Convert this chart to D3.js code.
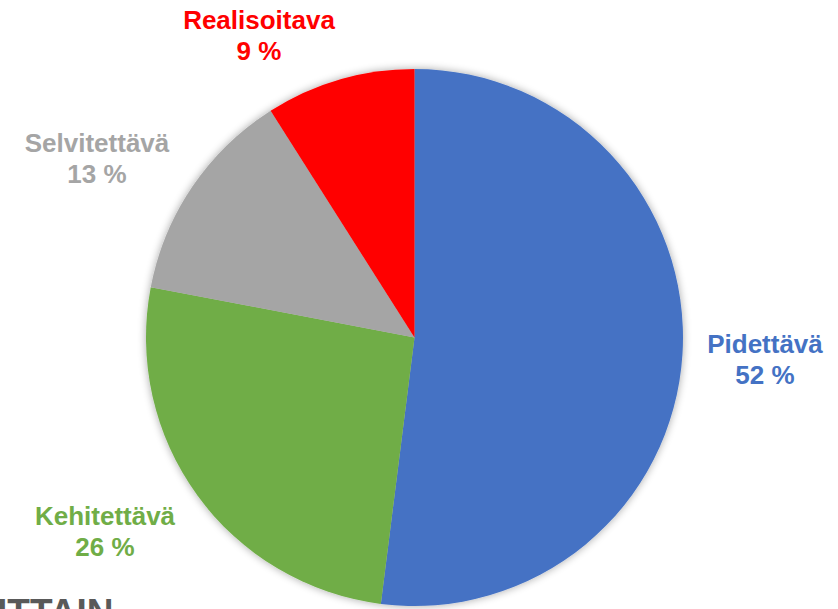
<!DOCTYPE html>
<html><head><meta charset="utf-8">
<script src="https://cdn.jsdelivr.net/npm/d3@7"></script>
<style>body{margin:0;background:#fff;overflow:hidden}svg{display:block}</style>
</head><body>
<script>
const categories = ["Pidettävä", "Kehitettävä", "Selvitettävä", "Realisoitava"];
const values = [52, 26, 13, 9];
const colors = ["#4472C4", "#70AD47", "#A5A5A5", "#FF0000"];
const labelText = ["52 %", "26 %", "13 %", "9 %"];
const labelPos = [[765, 353], [105, 525], [97, 152], [259, 29]];

const W = 838, H = 609;
const svg = d3.select("body").append("svg").attr("width", W).attr("height", H);
const defs = svg.append("defs");
const f = defs.append("filter").attr("id", "sh").attr("x", "-20%").attr("y", "-20%").attr("width", "140%").attr("height", "140%");
f.append("feGaussianBlur").attr("in", "SourceAlpha").attr("stdDeviation", 4);
f.append("feOffset").attr("dx", 0).attr("dy", 0).attr("result", "b");
f.append("feComponentTransfer").append("feFuncA").attr("type", "linear").attr("slope", 0.35);
const m = f.append("feMerge"); m.append("feMergeNode"); m.append("feMergeNode").attr("in", "SourceGraphic");

const cx = 414.5, cy = 337.5, r = 268.5;
const pie = d3.pie().sort(null).value(d => d)(values);
const arc = d3.arc().innerRadius(0).outerRadius(r);
const color = d3.scaleOrdinal().domain(categories).range(colors);

const g = svg.append("g").attr("transform", `translate(${cx},${cy})`).attr("filter", "url(#sh)");
g.selectAll("path").data(pie).join("path")
  .attr("d", arc).attr("fill", (d, i) => color(categories[i]));

const lab = svg.append("g").attr("font-family", "Liberation Sans, Arial, sans-serif")
  .attr("font-weight", "bold").attr("font-size", 26).attr("text-anchor", "middle");
categories.forEach((c, i) => {
  const t = lab.append("text").attr("x", labelPos[i][0]).attr("y", labelPos[i][1]).attr("fill", color(c));
  t.append("tspan").attr("x", labelPos[i][0]).text(c);
  t.append("tspan").attr("x", labelPos[i][0]).attr("dy", 31).text(labelText[i]);
});

svg.append("text").attr("x", -3).attr("y", 625).attr("font-family", "Liberation Sans, Arial, sans-serif")
  .attr("font-weight", "bold").attr("font-size", 37).attr("fill", "#595959").text("ITTAIN");
</script>
</body></html>
